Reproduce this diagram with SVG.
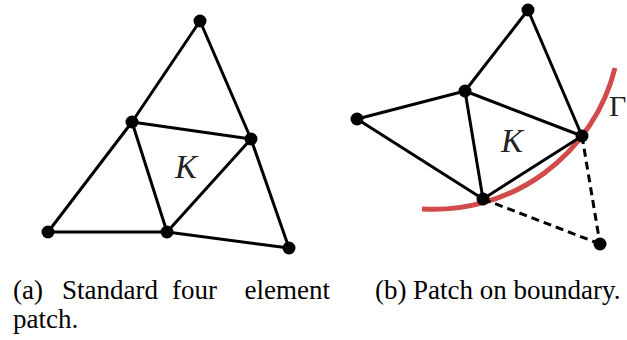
<svg xmlns="http://www.w3.org/2000/svg" width="627" height="340" viewBox="0 0 627 340">
<style>
.e{stroke:#000;stroke-width:3;fill:none;stroke-linecap:round}
.d{stroke:#000;stroke-width:3;fill:none;stroke-dasharray:8 5}
.b{stroke:#d24a4a;stroke-width:5;fill:none}
.n{fill:#000}
.m{font-family:"Liberation Serif",serif;font-style:italic;font-size:33px;fill:#222}
.g{font-family:"Liberation Serif",serif;font-size:30px;fill:#222}
.c{font-family:"Liberation Serif",serif;font-size:27px;fill:#000}
</style>
<rect width="627" height="340" fill="#fff"/>
<path id="boundary" class="b" d="M422 209 A187 187 0 0 0 615 68"/>
<g id="connectors">
<line class="e" x1="200" y1="21" x2="132" y2="122"/>
<line class="e" x1="132" y1="122" x2="48" y2="232"/>
<line class="e" x1="200" y1="21" x2="251" y2="139"/>
<line class="e" x1="251" y1="139" x2="289" y2="248"/>
<line class="e" x1="48" y1="232" x2="167" y2="232"/>
<line class="e" x1="167" y1="232" x2="289" y2="248"/>
<line class="e" x1="132" y1="122" x2="251" y2="139"/>
<line class="e" x1="132" y1="122" x2="167" y2="232"/>
<line class="e" x1="251" y1="139" x2="167" y2="232"/>
<line class="e" x1="528" y1="10" x2="465" y2="91"/>
<line class="e" x1="528" y1="10" x2="582" y2="136"/>
<line class="e" x1="357" y1="119" x2="465" y2="91"/>
<line class="e" x1="357" y1="119" x2="483" y2="199"/>
<line class="e" x1="465" y1="91" x2="483" y2="199"/>
<line class="e" x1="465" y1="91" x2="582" y2="136"/>
<line class="e" x1="483" y1="199" x2="582" y2="136"/>
<line class="d" x1="483" y1="199" x2="600" y2="244"/>
<line class="d" x1="582" y1="136" x2="600" y2="244"/>
</g>
<g id="a-top"><circle class="n" cx="200" cy="21" r="6.5"/></g>
<g id="a-leftmid"><circle class="n" cx="132" cy="122" r="6.5"/></g>
<g id="a-rightmid"><circle class="n" cx="251" cy="139" r="6.5"/></g>
<g id="a-bottomleft"><circle class="n" cx="48" cy="232" r="6.5"/></g>
<g id="a-bottommid"><circle class="n" cx="167" cy="232" r="6.5"/></g>
<g id="a-bottomright"><circle class="n" cx="289" cy="248" r="6.5"/></g>
<g id="b-top"><circle class="n" cx="528" cy="10" r="6.5"/></g>
<g id="b-mid"><circle class="n" cx="465" cy="91" r="6.5"/></g>
<g id="b-left"><circle class="n" cx="357" cy="119" r="6.5"/></g>
<g id="b-right"><circle class="n" cx="582" cy="136" r="6.5"/></g>
<g id="b-bottom"><circle class="n" cx="483" cy="199" r="6.5"/></g>
<g id="b-ghost"><circle class="n" cx="600" cy="244" r="6.5"/></g>
<text class="m" x="186" y="178" text-anchor="middle">K</text>
<text class="m" x="512" y="152" text-anchor="middle">K</text>
<text class="g" x="609" y="116">Γ</text>
<text class="c" y="299"><tspan x="13">(a)</tspan><tspan x="62">Standard</tspan><tspan x="172">four</tspan><tspan x="244.5">element</tspan></text>
<text class="c" x="13" y="328">patch.</text>
<text class="c" y="299"><tspan x="375">(b)</tspan><tspan x="413">Patch on boundary.</tspan></text>
</svg>
